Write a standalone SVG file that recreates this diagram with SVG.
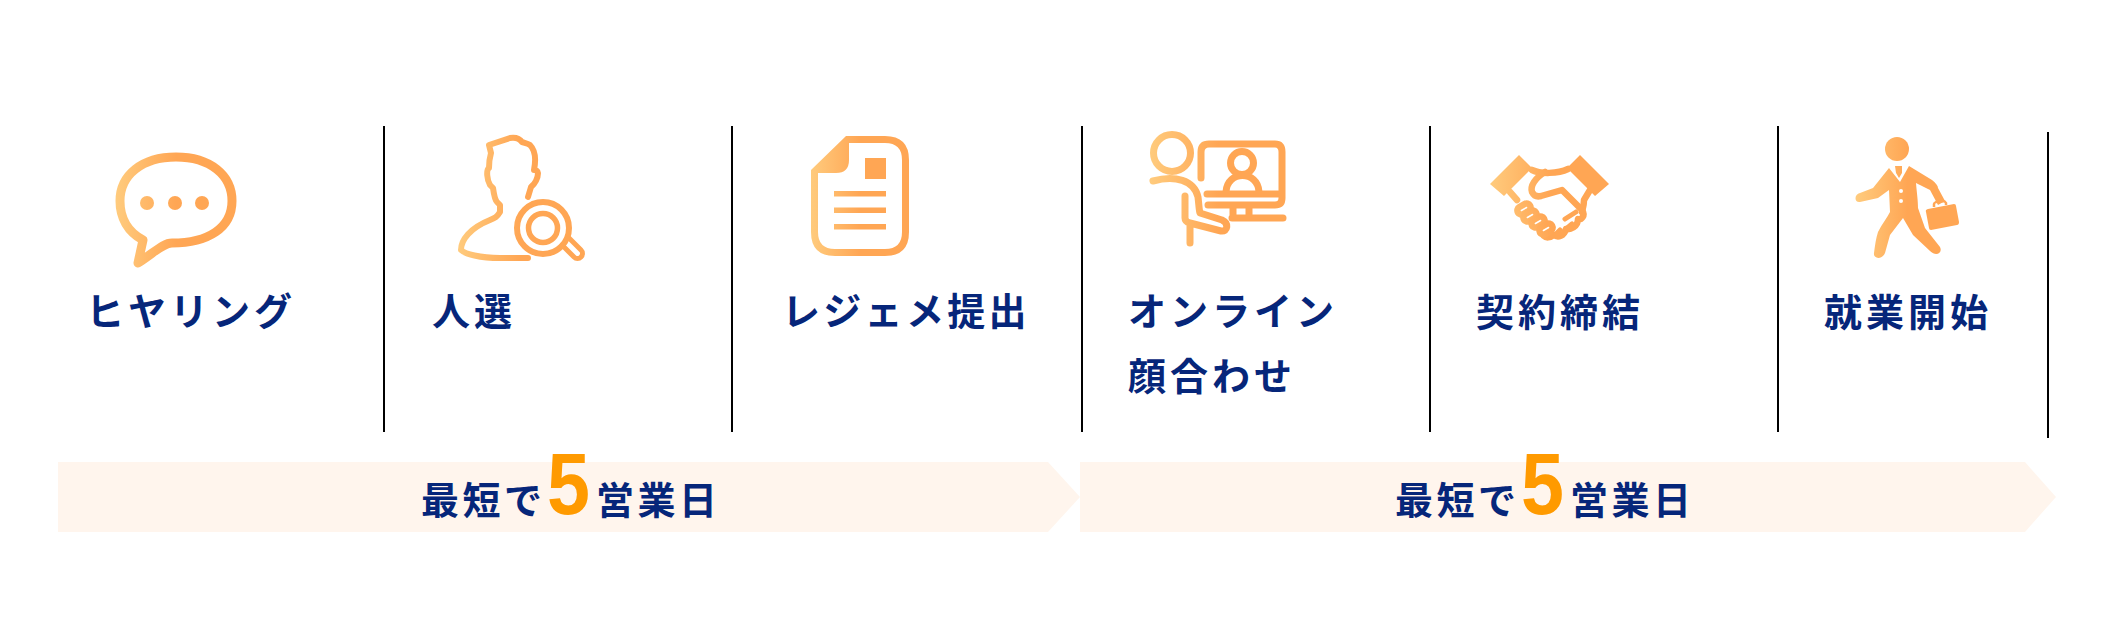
<svg xmlns="http://www.w3.org/2000/svg" xmlns:xlink="http://www.w3.org/1999/xlink" width="2124" height="620" viewBox="0 0 2124 620">
<style>
.t{font-family:"Noto Sans CJK JP","Noto Sans",sans-serif;font-weight:700;fill:#06267a}
.l{font-size:38px;letter-spacing:4px}
.b{font-size:38px;letter-spacing:3.500px}
.five{font-family:"Liberation Sans",Arial,sans-serif;font-weight:700;font-size:88px;fill:#ff9a00}
.d{stroke:#000;stroke-width:2;fill:none}
.s{fill:none;stroke-linecap:round;stroke-linejoin:round}
.band{fill:#fff5ed}
</style>
<defs>
<linearGradient id="base"><stop offset="0" stop-color="#ffcb7d"/><stop offset=".5" stop-color="#ffa654"/><stop offset="1" stop-color="#ffa654"/></linearGradient>
<linearGradient id="g1" xlink:href="#base" gradientUnits="userSpaceOnUse" x1="116" y1="0" x2="236" y2="0"/>
<linearGradient id="g2" xlink:href="#base" gradientUnits="userSpaceOnUse" x1="458" y1="0" x2="582" y2="0"/>
<linearGradient id="g3" xlink:href="#base" gradientUnits="userSpaceOnUse" x1="811" y1="0" x2="909" y2="0"/>
<linearGradient id="g4" xlink:href="#base" gradientUnits="userSpaceOnUse" x1="1150" y1="0" x2="1286" y2="0"/>
<linearGradient id="g5" xlink:href="#base" gradientUnits="userSpaceOnUse" x1="1490" y1="0" x2="1609" y2="0"/>
<linearGradient id="g6" xlink:href="#base" gradientUnits="userSpaceOnUse" x1="1856" y1="0" x2="1959" y2="0"/>
</defs>
<g id="dividers">
<path class="d" d="M384 126V432M732 126V432M1082 126V432M1430 126V432M1778 126V432M2048 132V438"/>
</g>
<g id="band-1">
<path class="band" d="M58 462H1048L1080 497L1048 532H58Z"/>
<text class="t b" x="421" y="514">最短で</text>
<text class="five" x="547" y="514" textLength="43" lengthAdjust="spacingAndGlyphs">5</text>
<text class="t b" x="596" y="514">営業日</text>
</g>
<g id="band-2">
<path class="band" d="M1080 462H2025L2056 497L2025 532H1080Z"/>
<text class="t b" x="1395" y="514">最短で</text>
<text class="five" x="1521" y="514" textLength="43" lengthAdjust="spacingAndGlyphs">5</text>
<text class="t b" x="1570" y="514">営業日</text>
</g>
<g id="step-hearing">
<path class="s" stroke="url(#g1)" stroke-width="9" d="M176 157C210 157 232 175 232 201C232 228 208 243 172 243C163 243 155 252 138 263L143 240C128 232 120 218 120 201C120 175 142 157 176 157Z"/>
<g fill="url(#g1)"><circle cx="147" cy="203" r="7"/><circle cx="175" cy="203" r="7"/><circle cx="202" cy="203" r="7"/></g>
<text class="t l" x="86" y="325">ヒヤリング</text>
</g>
<g id="step-selection">
<path class="s" stroke="url(#g2)" stroke-width="6" d="M528 197L531 187C535 184 538 178 538 173C538 171 536 170 534 170C536 160 535 150 530 145C527 143 524 143 522 142C520 139 517 137 510 138L495 143L489 145L491 153C489 160 489 165 489 168C486 170 487 180 490 185L493 188C494 195 495 200 497 202L500 205V212C497 217 495 218 490 220C470 228 461 240 461 250C465 254 480 258 500 258H528"/>
<g class="s" stroke="url(#g2)"><circle cx="543" cy="228" r="26" stroke-width="6"/><circle cx="543" cy="228" r="14.500" stroke-width="5.500"/><path stroke-width="5" d="M562 245L574 257A4.500 4.500 0 0 0 581 250L569 238"/></g>
<text class="t l" x="432" y="325">人選</text>
</g>
<g id="step-resume">
<path fill="url(#g3)" fill-rule="evenodd" d="M846 136H885Q909 136 909 160V232Q909 256 885 256H835Q811 256 811 232V170ZM849 143V160Q849 173 836 173H818V232Q818 249 835 249H885Q902 249 902 232V160Q902 143 885 143Z"/>
<path fill="url(#g3)" d="M865 158H886V179H865ZM834 191H886V196.500H834ZM834 207.500H886V213H834ZM834 224H886V229.500H834Z"/>
<text class="t l" x="782" y="325" style="letter-spacing:3.300px">レジェメ提出</text>
</g>
<g id="step-online">
<g class="s" stroke="url(#g4)" stroke-width="7">
<circle cx="1172" cy="153" r="18.500"/>
<path d="M1153 181C1175 175 1194 180 1198 197C1199 205 1199 210 1200 213L1222 220C1229 223 1228 232 1221 231L1190 223C1186 222 1185 220 1185 218V196M1190 223V243"/>
<path d="M1201 178V152Q1201 144 1209 144H1275Q1282 144 1282 152V198Q1282 205 1275 205H1208M1207 194H1280"/>
<circle cx="1242" cy="163" r="11.500"/>
<path d="M1226 192C1227 170 1258 170 1259 192M1233 207V217M1249 207V217M1232 218H1283"/>
</g>
<text class="t l" x="1128" y="325">オンライン</text>
<text class="t l" x="1128" y="390">顔合わせ</text>
</g>
<g id="step-contract">
<path fill="url(#g5)" d="M1519 155L1490 184L1504 196L1532 168ZM1580 155L1609 184L1595 196L1567 168Z"/>
<g class="s" stroke="url(#g5)" stroke-width="6.500">
<path d="M1532 170C1540 174 1558 174 1568 169M1510 192L1517 200M1590 190L1584 200C1584 205 1583 208 1582 212"/>
<path d="M1545 172C1535 178 1530 186 1532 192C1534 196 1537 197 1541 196L1562 190L1582 210C1586 216 1581 220 1578 219C1578 227 1570 230 1566 229C1564 236 1558 238 1554 235C1550 238 1546 238 1544 236"/>
<path stroke-width="5" d="M1565 219L1576 212M1566 229L1572 224M1555 235L1560 230"/>
<rect x="1517" y="205" width="14" height="8" rx="4" transform="rotate(-30 1524 209)"/>
<rect x="1523" y="212" width="14" height="8" rx="4" transform="rotate(-30 1530 216)"/>
<rect x="1531" y="218" width="14" height="8" rx="4" transform="rotate(-30 1538 222)"/>
<rect x="1539" y="225" width="14" height="8" rx="4" transform="rotate(-30 1546 229)"/>
</g>
<text class="t l" x="1476" y="326">契約締結</text>
</g>
<g id="step-start">
<g fill="url(#g6)">
<circle cx="1897" cy="149" r="12"/>
<path d="M1889 168L1900 182L1909 166L1932 180C1936 183 1938 186 1938 188L1945 201L1938 205L1930 190L1916 183C1917 195 1918 200 1918 208L1925 228L1940 247C1943 253 1936 257 1930 251L1913 235L1903 218L1890 235L1885 253C1882 260 1873 259 1874 253C1875 245 1876 238 1878 232C1882 224 1887 218 1890 212L1889 190L1878 198L1860 202C1854 203 1854 194 1860 193L1873 188Z"/>
<path d="M1895 166H1902L1902 173L1899 178L1896 173Z"/>
<path d="M1926 212Q1925 210 1928 209L1954 204Q1956 204 1956 206L1959 222Q1959 225 1957 225L1931 230Q1929 230 1929 228Z"/>
</g>
<path fill="none" stroke="url(#g6)" stroke-width="2.500" d="M1934 207V204Q1934 203 1936 202L1943 201Q1945 201 1946 203V205"/>
<circle cx="1901" cy="191" r="2" fill="#fff"/><circle cx="1901" cy="201" r="2" fill="#fff"/>
<text class="t l" x="1824" y="326">就業開始</text>
</g>
</svg>
